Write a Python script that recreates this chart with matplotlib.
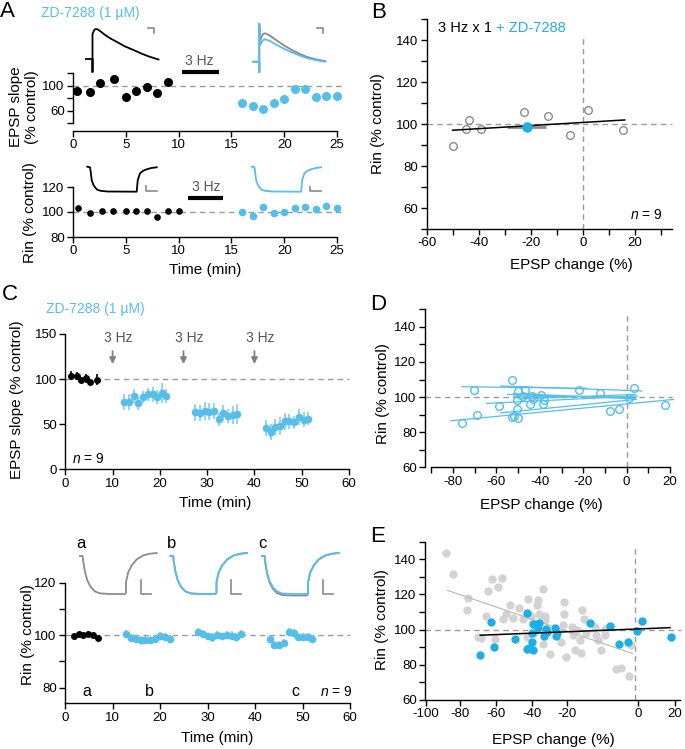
import matplotlib
matplotlib.use('Agg')
import matplotlib.pyplot as plt

W, H = 685, 749

plt.rcParams['font.family'] = ['Liberation Sans', 'DejaVu Sans']
plt.rcParams['mathtext.fontset'] = 'custom'
plt.rcParams['mathtext.it'] = 'Liberation Sans:italic'
plt.rcParams['mathtext.rm'] = 'Liberation Sans'
plt.rcParams['font.size'] = 9.5
plt.rcParams['axes.linewidth'] = 1.0
plt.rcParams['axes.unicode_minus'] = False

BLUE = '#55bfea'
BLUE_ERR = '#92d5f2'
BLUE_DARK = '#1eaee6'
GREY_TXT = '#555555'
DASH = '#9a9a9a'

# ---------------- data ----------------
# A: single experiment, EPSP slope
a_ctl_t = [0.4, 1.6, 2.6, 3.9, 5, 6, 7, 8, 9]
a_ctl_epsp = [91, 90, 104, 110, 82, 92, 98, 88, 106]
a_zd_t = [16, 17, 18, 19, 20, 21, 22, 23, 24, 25]
a_zd_epsp = [72, 67, 63, 72, 79, 95, 94, 82, 84, 84]
# A: Rin
a_ctl_t2 = [0.5, 1.6, 2.7, 3.8, 5, 6, 7, 8, 9, 10]
a_ctl_rin = [103, 99, 101, 101, 101, 101, 101, 96, 100.5, 100.5]
a_zd_rin = [100, 96.5, 104, 99, 100, 103, 104, 102.5, 104.5, 103]

# A traces (time, potential in arbitrary units)
epsp_t = [-6.5, 0, 0, 0, 0.8, 2, 3.5, 5, 7.5, 12, 18, 24, 32, 41, 50, 57, 66]
epsp_ctl_v = [0, 0, -13, 25, 27, 29.3, 30, 29.7, 28, 24.5, 20.5, 17.3, 12.8, 9, 5, 2.3, -0.5]
epsp2_t = [-6, 0, 0, 0, 1, 2.5, 4, 5.7, 10, 17, 24, 32, 40, 47, 56, 66]
epsp2_ctl_v = [0, 0, -10.5, 38, 22, 25.5, 27.8, 28.4, 26.5, 21.5, 16.7, 12, 8, 5, 2.5, 0.5]
epsp2_zd_v = [0, 0, -10.5, 38, 17, 20, 21.8, 22.4, 21, 17, 13.3, 9.5, 6.3, 3.8, 1.7, 0]
rin_t = [0, 2.7, 3.5, 4.4, 6, 7.7, 10, 12.7, 20, 49.4, 50, 50.5, 52.7, 56, 59.4, 64, 69.4]
rin_v = [0, -0.6, -6, -13.3, -18, -20.6, -23, -24, -24.8, -25, -18, -13.3, -6.6, -4, -2.6, -1.3, -0.6]

# B
b_epsp = [-50, -44.9, -43.8, -39, -22.8, -13.6, -4.9, 1.8, 15.5]
b_rin = [89.6, 97.7, 102.2, 97.6, 105.6, 104, 94.7, 106.7, 97.3]
b_mean = (-21.6, 98.6)
b_sem = (7.5, 1.7)
b_fit_x = [-50, 16]
b_fit_y = [97.1, 102]

# C: EPSP slope, mean +/- sem (n = 9)
c_ctl_t = [1.2, 2.5, 3.4, 4.4, 5.3, 6.6]
c_ctl_epsp = [103.5, 103.5, 98.5, 101, 97, 99.5]
c_ctl_epsp_err = [5, 4, 3, 5, 3, 6]
c_t1 = [12.4, 13.5, 14.5, 15.4, 16.4, 17.5, 18.5, 19.4, 20.5, 21.4]
c_t2 = [27.4, 28.5, 29.5, 30.4, 31.4, 32.5, 33.4, 34.5, 35.5, 36.4]
c_t3 = [42.4, 43.5, 44.4, 45.5, 46.5, 47.4, 48.4, 49.5, 50.5, 51.4]
c_epsp1 = [75, 74.5, 81.5, 73.5, 80, 83, 83, 80, 85, 81]
c_epsp2 = [63, 62, 65, 64, 65, 55.5, 62, 59, 60, 61]
c_epsp3 = [46, 41, 47, 48.5, 53, 53, 52, 58, 55, 56]
c_epsp_err1 = [9, 9, 8, 8, 7, 7, 8, 8, 11, 8]
c_epsp_err2 = [9, 9, 10, 9, 9, 7, 9, 8, 10, 11]
c_epsp_err3 = [9, 9, 9, 10, 9, 8, 7, 9, 8, 7]
c_stim_t = [10, 25, 40]

# C: Rin
c_ctl_t2 = [1.9, 2.9, 3.8, 4.8, 5.9, 6.9]
c_ctl_rin = [99.7, 100.5, 100, 100.4, 100, 99]
c_ctl_rin_err = [0.5, 0.5, 0.4, 0.5, 0.4, 0.6]
c_t1b = [12.8, 13.8, 14.9, 15.9, 16.9, 17.8, 18.9, 20, 21, 22.1]
c_t2b = [28, 29, 30, 31, 32, 33.1, 34.2, 35.2, 36.1, 37.1]
c_t3b = [43.1, 44.1, 45.1, 46.1, 47.2, 48.2, 49.1, 50.2, 51.1, 52.1]
c_rin1 = [100.5, 99, 98.5, 98, 98.3, 98.3, 98.5, 99.6, 99.3, 98.5]
c_rin2 = [101.3, 100.5, 99.5, 99.1, 99.9, 99.5, 100.2, 99.8, 99.3, 100.5]
c_rin3 = [98.5, 96.3, 96.3, 97, 101.3, 100.8, 99.2, 99.2, 99.3, 98.5]
c_rin_err = [1.5, 1.4, 1.5, 1.6, 1.5, 1.5, 1.4, 1.6, 1.5, 1.6]
c_marks = ['a', 'b', 'c']
c_marks_t = [4.6, 17.7, 48.4]

# C traces
ct_t = [0, 2.7, 3.3, 5, 7.3, 10.7, 15, 20, 30, 45, 46, 46, 48.3, 51.7, 56.7, 63.3, 70, 76.7]
ct_v = [0, 0, -6, -16, -24.4, -31, -35.4, -37.4, -38, -38, -36.7, -26, -16, -9.4, -3.4, 0.6, 2.3, 3]
ct_v_c_ctl = [0, 0, -7, -17.5, -26, -32.5, -37, -39, -39.5, -39.5, -38, -27, -16.5, -9.6, -3.5, 0.5, 2.2, 3]

# D: every cell, three stimulations
d_epsp = [-75.8, -70.5, -69.0, -58.7, -53.0, -53.0, -51.8, -50.0, -50.5, -50.4, -50.0, -47.8, -46.9,
          -44.6, -43.8, -43.3, -39.5, -38.6, -38.1, -22.0, -12.3, -7.7, -3.5, 1.0, 3.4, 17.6]
d_rin = [85.3, 104.2, 89.9, 94.9, 109.7, 88.8, 89.3, 88.2, 93.0, 98.3, 103.2, 100.8, 104.0,
         96.2, 100.6, 98.7, 101.1, 96.2, 98.3, 104.0, 102.3, 91.8, 93.0, 99.2, 105.0, 95.6]
d_fit_x0 = [-81, -76, -58, -52, -52, -64.5, -58, -55, -50]
d_fit_y0 = [86.5, 105.9, 106.3, 100.5, 102, 96.4, 91, 101.5, 99]
d_fit_x1 = [22, -18, 7, 4, 4, 5, 4.5, 4, 4]
d_fit_y1 = [98.7, 105, 103.5, 100, 99, 100.6, 98.7, 99.5, 101.5]

# E: control cells (grey) vs ZD-7288 (blue, same as D)
e_ctl_epsp = [-92.6, -89.1, -81.8, -82.2, -76.9, -75.7, -73.1, -72.3, -70.3, -68.6, -67.1, -65.5, -65.0,
              -63.4, -61.3, -60.1, -56.9, -55.2, -52.8, -52.3, -51.2, -49.6, -47.9, -47.4, -47.1, -45.8,
              -45.2, -45.0, -44.3, -44.3, -41.9, -36.5, -34.9, -34.9, -33.8, -35.4, -30.8, -30.3, -29.6,
              -28.4, -26.8, -26.0, -25.2, -26.3, -24.0, -19.8, -19.1, -18.3, -16.5, -14.6, -14.9, -9.4,
              -6.8, -2.1, -3.2]
e_ctl_rin = [143.7, 131.8, 118.0, 111.0, 95.8, 95.5, 108.0, 122.0, 128.6, 94.5, 124.2, 129.3, 105.9,
             109.1, 113.8, 106.6, 112.5, 105.9, 95.8, 117.6, 107.6, 98.1, 113.8, 117.0, 109.1, 107.6,
             92.0, 122.9, 108.0, 105.3, 86.4, 93.0, 115.7, 109.1, 84.4, 102.8, 101.5, 96.8, 88.2,
             99.6, 93.9, 111.0, 106.2, 86.7, 98.1, 101.5, 96.8, 94.3, 88.2, 96.8, 100.6, 77.4,
             78.4, 91.5, 73.5]
e_ctl_fit_x = [-92, -1.3]
e_ctl_fit_y = [122.3, 86.4]
e_zd_fit_x = [-75.9, 17.1]
e_zd_fit_y = [96.8, 101.1]
e_tick_pos = [-102.7, -85.7, -68.2, -50.7, -33.3, 1.4, 19.6]
e_tick_lab = ['-100', '-80', '-60', '-40', '-20', '0', '20']

# ---------------- helpers ----------------
fig = plt.figure(figsize=(W / 100, H / 100), dpi=100)


def add_ax(l, t, r, b):
    return fig.add_axes([l / W, 1 - b / H, (r - l) / W, (b - t) / H])


def ftext(x, y, s, **kw):
    return fig.text(x / W, 1 - y / H, s, **kw)


def style(ax):
    ax.spines['top'].set_visible(False)
    ax.spines['right'].set_visible(False)
    ax.tick_params(which='both', direction='out', width=1, labelsize=9.5, pad=2, length=4)
    ax.patch.set_alpha(0)


def trace_ax(ox, oy, l, t, r, b):
    ax = add_ax(l, t, r, b)
    ax.set_xlim(l - ox, r - ox)
    ax.set_ylim(oy - b, oy - t)
    ax.axis('off')
    return ax


def dash_h(ax, y, x0, x1):
    ax.plot([x0, x1], [y, y], ls=(0, (4, 3)), color=DASH, lw=1, zorder=1, clip_on=False)


def dash_v(ax, x, y0, y1):
    ax.plot([x, x], [y0, y1], ls=(0, (4, 3)), color=DASH, lw=1, zorder=1, clip_on=False)


LBL = 11
LET = 16

# ---------------- A ----------------
ftext(0, 17, 'A', fontsize=LET, va='baseline')
ftext(41, 17, 'ZD-7288 (1 µM)', fontsize=10, color=BLUE, va='baseline')

axA1 = add_ax(73, 73, 337, 131)
style(axA1)
axA1.set_xlim(0, 25)
axA1.set_ylim(27.2, 120)
axA1.spines['left'].set_bounds(40, 120)
axA1.set_yticks([60, 100])
axA1.set_yticks([40, 80, 120], minor=True)
axA1.set_xticks([0, 5, 10, 15, 20, 25])
dash_h(axA1, 100, 0, 25.5)
axA1.plot(a_ctl_t, a_ctl_epsp, 'o', color='black', ms=6.5, mec='none', clip_on=False)
axA1.plot(a_zd_t, a_zd_epsp, 'o', color=BLUE, ms=6.5, mec='none', clip_on=False)
axA1.plot([10.3, 13.8], [121.5, 121.5], color='black', lw=3, solid_capstyle='butt', clip_on=False)
axA1.text(12.0, 139, '3 Hz', ha='center', va='center', fontsize=10, color=GREY_TXT)
ftext(24, 107, 'EPSP slope\n(% control)', fontsize=LBL, rotation=90, ha='center', va='center',
      linespacing=1.15)

tA1 = trace_ax(92.5, 59, 82, 20, 160, 75)
tA1.plot(epsp_t, epsp_ctl_v, color='black', lw=1.3)
tA1.plot([55.8, 61.5, 61.5], [30.7, 30.7, 25.7], color='#8a8a8a', lw=1.2)
tA2 = trace_ax(259.3, 61.7, 250, 20, 328, 75)
tA2.plot(epsp2_t, epsp2_ctl_v, color='#888888', lw=1.3)
tA2.plot(epsp2_t, epsp2_zd_v, color=BLUE, lw=1.3)
tA2.plot([57.7, 63.7, 63.7], [33.7, 33.7, 28.7], color='#8a8a8a', lw=1.2)

axA2 = add_ax(73, 187, 337, 237)
style(axA2)
axA2.set_xlim(0, 25)
axA2.set_ylim(80, 120)
axA2.set_yticks([80, 100, 120])
axA2.set_xticks([0, 5, 10, 15, 20, 25])
dash_h(axA2, 100, 0, 25.5)
axA2.plot(a_ctl_t2, a_ctl_rin, 'o', color='black', ms=4.8, mec='none', clip_on=False)
axA2.plot(a_zd_t, a_zd_rin, 'o', color=BLUE, ms=5.5, mec='none', clip_on=False)
axA2.plot([10.9, 14.2], [111.2, 111.2], color='black', lw=3, solid_capstyle='butt', clip_on=False)
axA2.text(12.6, 120, '3 Hz', ha='center', va='center', fontsize=10, color=GREY_TXT)
ftext(30, 213, 'Rin (% control)', fontsize=LBL, rotation=90, ha='center', va='center')
ftext(205, 270, 'Time (min)', fontsize=LBL, ha='center', va='center')

tA3 = trace_ax(87.3, 166.7, 84, 162, 162, 196)
tA3.plot(rin_t, rin_v, color='black', lw=1.3)
tA3.plot([58.7, 58.7, 69.7], [-19.3, -24.3, -24.3], color='#8a8a8a', lw=1.2)
tA4 = trace_ax(251.7, 166.7, 248, 162, 326, 196)
tA4.plot(rin_t, rin_v, color=BLUE, lw=1.3)
tA4.plot([58.3, 58.3, 69.3], [-20, -23.8, -23.8], color='#8a8a8a', lw=1.2)

# ---------------- B ----------------
ftext(371, 18.5, 'B', fontsize=LET, va='baseline')
axB = add_ax(426.5, 19.3, 671.7, 229)
style(axB)
axB.set_xlim(-60, 34)
axB.set_ylim(50, 150)
axB.set_xticks([-60, -40, -20, 0, 20])
axB.set_xticks([-50, -30, -10, 10, 30], minor=True)
axB.set_yticks([60, 80, 100, 120, 140])
axB.set_yticks([50, 70, 90, 110, 130, 150], minor=True)
dash_h(axB, 100, -60, 34)
dash_v(axB, 0, 50, 141)
axB.plot(b_epsp, b_rin, 'o', mfc='white', mec='#8c8c8c', mew=1, ms=5.5, zorder=3)
axB.plot(b_fit_x, b_fit_y, color='black', lw=1.1, zorder=4)
axB.errorbar([b_mean[0]], [b_mean[1]], xerr=[b_sem[0]], yerr=[b_sem[1]], fmt='none',
             ecolor='#8c8c8c', elinewidth=2, capsize=0, zorder=3)
axB.plot([b_mean[0]], [b_mean[1]], 'o', color=BLUE_DARK, ms=7.5, mec='none', zorder=5)
t1 = axB.text(-55.5, 144.1, '3 Hz x 1 ', fontsize=10.5, va='baseline')
axB.annotate('+ ZD-7288', xy=(1, 0), xycoords=t1, va='bottom', ha='left', fontsize=10.5,
             color=BLUE_DARK)
axB.text(30.3, 54.7, '$n$ = 9', ha='right', va='baseline', fontsize=10)
ftext(378, 124, 'Rin (% control)', fontsize=LBL, rotation=90, ha='center', va='center')
ftext(571, 265, 'EPSP change (%)', fontsize=LBL, ha='center', va='center')

# ---------------- C ----------------
ftext(1.5, 300, 'C', fontsize=LET, va='baseline')
ftext(45.5, 312.7, 'ZD-7288 (1 µM)', fontsize=10, color=BLUE, va='baseline')

axC1 = add_ax(65.3, 334, 349, 469.3)
style(axC1)
axC1.set_xlim(0, 60)
axC1.set_ylim(0, 150)
axC1.set_yticks([0, 50, 100, 150])
axC1.set_xticks([0, 10, 20, 30, 40, 50, 60])
dash_h(axC1, 100, 0, 60)
axC1.errorbar(c_ctl_t, c_ctl_epsp, yerr=c_ctl_epsp_err, fmt='o', color='black', ecolor='black',
              elinewidth=1.2, capsize=0, ms=5, mec='none', zorder=3)
for tt, yy, ee in [(c_t1, c_epsp1, c_epsp_err1), (c_t2, c_epsp2, c_epsp_err2),
                   (c_t3, c_epsp3, c_epsp_err3)]:
    axC1.errorbar(tt, yy, yerr=ee, fmt='o', color=BLUE, ecolor=BLUE_ERR, elinewidth=1.4,
                  capsize=0, ms=5.5, mec='none', zorder=3)
for st in c_stim_t:
    axC1.annotate('', xy=(st, 116.7), xytext=(st, 131),
                  arrowprops=dict(arrowstyle='-|>', color='#808080', lw=1.3, mutation_scale=9,
                                  shrinkA=0, shrinkB=0))
    axC1.text(st + 1.2, 146, '3 Hz', ha='center', va='center', fontsize=10, color=GREY_TXT)
axC1.text(1.35, 7.3, '$n$ = 9', ha='left', va='baseline', fontsize=10)
ftext(17, 400, 'EPSP slope (% control)', fontsize=LBL, rotation=90, ha='center', va='center')
ftext(215, 503, 'Time (min)', fontsize=LBL, ha='center', va='center')

axC2 = add_ax(65, 582.7, 350, 703.3)
style(axC2)
axC2.set_xlim(0, 60)
axC2.set_ylim(74, 120)
axC2.set_yticks([80, 100, 120])
axC2.set_yticks([90, 110], minor=True)
axC2.set_xticks([0, 10, 20, 30, 40, 50, 60])
dash_h(axC2, 100, 0, 60)
axC2.errorbar(c_ctl_t2, c_ctl_rin, yerr=c_ctl_rin_err, fmt='o', color='black', ecolor='black',
              elinewidth=1.2, capsize=0, ms=5, mec='none', zorder=3)
for tt, yy in [(c_t1b, c_rin1), (c_t2b, c_rin2), (c_t3b, c_rin3)]:
    axC2.errorbar(tt, yy, yerr=c_rin_err, fmt='o', color=BLUE, ecolor=BLUE_ERR, elinewidth=1.4,
                  capsize=0, ms=5.5, mec='none', zorder=3)
for m, tm in zip(c_marks, c_marks_t):
    axC2.text(tm, 76.6, m, ha='center', va='baseline', fontsize=11.5)
axC2.text(53.7, 76.6, '$n$ = 9', ha='left', va='baseline', fontsize=10)
ftext(28, 635, 'Rin (% control)', fontsize=LBL, rotation=90, ha='center', va='center')
ftext(217, 738, 'Time (min)', fontsize=LBL, ha='center', va='center')

# C traces a, b, c
for lab, ox, col_ctl, col_zd, vctl in [('a', 80, '#8c8c8c', None, ct_v),
                                       ('b', 170.5, '#8c8c8c', BLUE, ct_v),
                                       ('c', 262, '#8c8c8c', BLUE, ct_v_c_ctl)]:
    ta = trace_ax(ox, 556, ox - 5, 548, ox + 80, 600)
    ta.plot(ct_t, vctl, color=col_ctl, lw=1.3)
    if col_zd:
        ta.plot(ct_t, ct_v, color=col_zd, lw=1.3)
    ta.plot([60.5, 60.5, 70.5], [-24, -38, -38], color='#8a8a8a', lw=1.2)
    ftext(ox - 3.5, 548, lab, fontsize=12, va='baseline')

# ---------------- D ----------------
ftext(370, 310, 'D', fontsize=LET, va='baseline')
axD = add_ax(425, 309.3, 674.4, 467.3)
style(axD)
axD.set_xlim(-92.9, 22)
axD.set_ylim(60, 150)
axD.spines['bottom'].set_bounds(-90, 20)
axD.set_xticks([-80, -60, -40, -20, 0, 20])
axD.set_xticks([-90, -70, -50, -30, -10, 10], minor=True)
axD.set_yticks([60, 80, 100, 120, 140])
axD.set_yticks([70, 90, 110, 130, 150], minor=True)
dash_h(axD, 100, -92.9, 21)
dash_v(axD, 0, 60, 148)
for x0, y0, x1, y1 in zip(d_fit_x0, d_fit_y0, d_fit_x1, d_fit_y1):
    axD.plot([x0, x1], [y0, y1], color=BLUE, lw=0.9, zorder=2)
axD.plot(d_epsp, d_rin, 'o', mfc='none', mec=BLUE, mew=1, ms=5.5, zorder=3)
ftext(383, 394, 'Rin (% control)', fontsize=LBL, rotation=90, ha='center', va='center')
ftext(541, 505, 'EPSP change (%)', fontsize=LBL, ha='center', va='center')

# ---------------- E ----------------
ftext(370, 541.7, 'E', fontsize=LET, va='baseline')
axE = add_ax(425, 541.6, 680, 700)
style(axE)
axE.set_xlim(-103, 22)
axE.set_ylim(60, 150)
axE.set_xticks(e_tick_pos)
axE.set_xticklabels(e_tick_lab)
axE.set_yticks([60, 80, 100, 120, 140])
axE.set_yticks([70, 90, 110, 130, 150], minor=True)
dash_h(axE, 100, -103, 22.5)
dash_v(axE, 0, 60, 148)
axE.plot(e_ctl_epsp, e_ctl_rin, 'o', color='#d3d3d3', ms=6, mec='none', zorder=2)
axE.plot(e_ctl_fit_x, e_ctl_fit_y, color='#bdbdbd', lw=0.9, zorder=3)
axE.plot(d_epsp, d_rin, 'o', color=BLUE_DARK, ms=6, mec='none', zorder=4)
axE.plot(e_zd_fit_x, e_zd_fit_y, color='black', lw=1.1, zorder=5)
ftext(382, 620, 'Rin (% control)', fontsize=LBL, rotation=90, ha='center', va='center')
ftext(553, 740, 'EPSP change (%)', fontsize=LBL, ha='center', va='center')

fig.savefig('out.png', dpi=100)
